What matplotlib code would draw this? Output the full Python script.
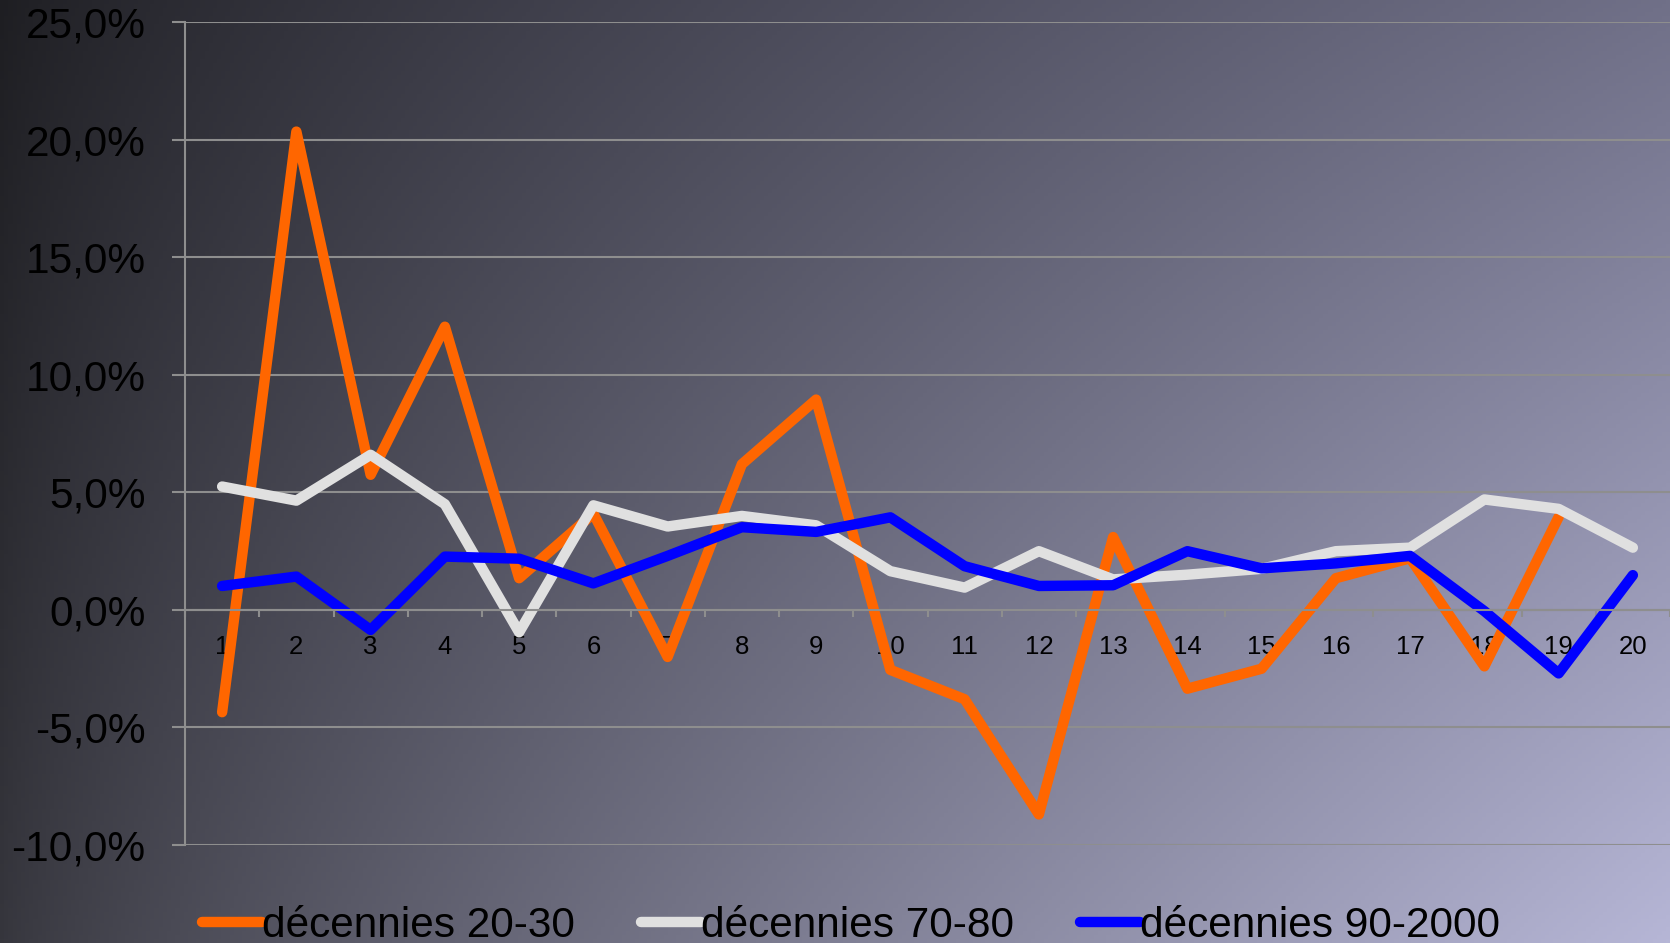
import numpy as np
import matplotlib.pyplot as plt
from matplotlib.ticker import FixedLocator, FuncFormatter

plt.rcParams['font.family'] = ['Liberation Sans', 'DejaVu Sans']

categories = list(range(1, 21))
# growth rates in %, orange series has no value for 20
dec_20_30 = [-4.35, 20.35, 5.75, 12.05, 1.35, 4.1, -2.0, 6.2, 8.95, -2.55,
             -3.8, -8.7, 3.1, -3.35, -2.5, 1.35, 2.2, -2.4, 3.95, np.nan]
dec_70_80 = [5.25, 4.65, 6.6, 4.5, -0.95, 4.45, 3.55, 4.0, 3.6, 1.65,
             0.95, 2.5, 1.3, 1.5, 1.75, 2.5, 2.65, 4.7, 4.3, 2.65]
dec_90_2000 = [1.02, 1.42, -0.85, 2.27, 2.18, 1.13, 2.3, 3.52, 3.32, 3.94,
               1.86, 1.02, 1.05, 2.5, 1.77, 1.98, 2.3, -0.05, -2.7, 1.48]
labels = ['décennies 20-30', 'décennies 70-80', 'décennies 90-2000']
colors = ['#ff6600', '#e0e0e0', '#0000ff']

fig = plt.figure(figsize=(16.7, 9.43), dpi=100)

# diagonal gradient background
xs = np.linspace(0, 1, 400) ** 0.8
ys = np.linspace(0, 1, 240)
X, Y = np.meshgrid(xs, ys)
tl = np.array([30, 30, 34]) / 255
tr = np.array([112, 112, 136]) / 255
bl = np.array([54, 54, 61]) / 255
br = np.array([182, 182, 214]) / 255
grad = ((1 - X)[..., None] * (1 - Y)[..., None] * tl + X[..., None] * (1 - Y)[..., None] * tr
        + (1 - X)[..., None] * Y[..., None] * bl + X[..., None] * Y[..., None] * br)
bg = fig.add_axes([0, 0, 1, 1], zorder=-1)
bg.imshow(grad, aspect='auto', extent=[0, 1, 0, 1], origin='upper')
bg.axis('off')

ax = fig.add_axes([185 / 1670, 1 - 845 / 943, 1 - 185 / 1670, (845 - 22.3) / 943])
ax.set_facecolor('none')

for vals, c, lab in zip([dec_20_30, dec_70_80, dec_90_2000], colors, labels):
    ax.plot(categories, vals, color=c, lw=7.5, label=lab,
            solid_capstyle='round', solid_joinstyle='round')

ax.set_xlim(0.5, 20.5)
ax.set_ylim(-10, 25)
ax.set_yticks(np.arange(-10, 26, 5))
ax.yaxis.set_major_formatter(FuncFormatter(lambda v, p: f'{v:.1f}%'.replace('.', ',')))
ax.grid(axis='y', color='#8e8e8e', lw=1.5)
ax.tick_params(axis='y', labelsize=30.5, colors='#8e8e8e', labelcolor='black',
               length=9.5, width=1.5, pad=19)

ax.spines['bottom'].set_position(('data', 0))
for s in ['top', 'right']:
    ax.spines[s].set_visible(False)
for s in ['bottom', 'left']:
    ax.spines[s].set_color('#8e8e8e')
    ax.spines[s].set_linewidth(1.5)

ax.set_xticks(categories)
ax.xaxis.set_minor_locator(FixedLocator(np.arange(0.5, 21, 1)))
ax.tick_params(axis='x', which='major', length=0, labelsize=18.5, pad=18, labelcolor='black')
ax.tick_params(axis='x', which='minor', length=5, width=1.5, color='#8e8e8e')

ax.legend(loc='center left', bbox_to_anchor=(202 / 1670, 1 - 926 / 943),
          bbox_transform=fig.transFigure, ncol=3, frameon=False, fontsize=30.5,
          handlelength=1.42, handletextpad=0.0, columnspacing=1.55,
          borderpad=0, borderaxespad=0)

fig.savefig('out.png', dpi=100)
